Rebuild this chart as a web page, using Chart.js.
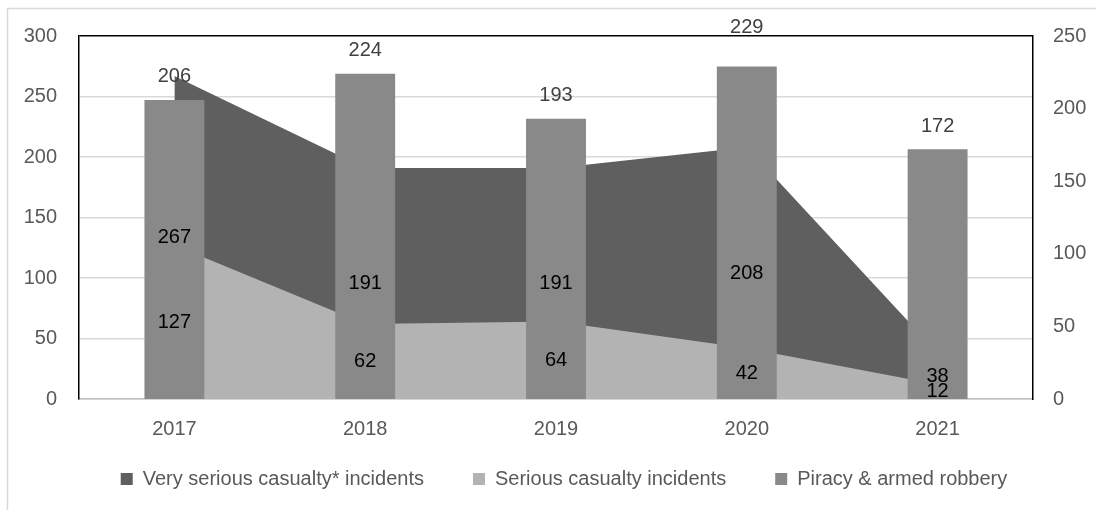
<!DOCTYPE html>
<html>
<head>
<meta charset="utf-8">
<script src="https://cdn.jsdelivr.net/npm/chart.js@4.4.1/dist/chart.umd.min.js"></script>
<style>
  html, body { margin: 0; padding: 0; background: #fff; overflow: hidden; }
  #wrap { position: relative; width: 1096px; height: 510px; }
</style>
</head>
<body>
<div id="wrap"><canvas id="chart"></canvas></div>
<script>
// datos
const years = ["2017", "2018", "2019", "2020", "2021"];
const verySerious = [267, 191, 191, 208, 38];
const serious = [127, 62, 64, 42, 12];
const piracy = [206, 224, 193, 229, 172];
const leftTicks = [0, 50, 100, 150, 200, 250, 300];
const rightTicks = [0, 50, 100, 150, 200, 250];
const seriesNames = ["Very serious casualty* incidents", "Serious casualty incidents", "Piracy & armed robbery"];

const FONT = "'Liberation Sans', Arial, sans-serif";
Chart.defaults.font.family = FONT;
Chart.defaults.font.size = 20;
Chart.defaults.color = "#595959";

// marco exterior gris + ajuste de la leyenda
const outerFrame = {
  id: "outerFrame",
  beforeDraw(chart) {
    const ctx = chart.ctx;
    ctx.save();
    ctx.strokeStyle = "#d9d9d9";
    ctx.lineWidth = 1.5;
    ctx.strokeRect(7.5, 8.5, 2000, 2000);
    ctx.restore();
  },
  afterLayout(chart) {
    const lg = chart.legend;
    if (lg) {
      lg.left += 16;
      lg.right += 16;
      lg.top -= 60;
    }
  }
};

// etiquetas de valores
const valueLabels = {
  id: "valueLabels",
  afterDatasetsDraw(chart) {
    const ctx = chart.ctx;
    const yLeft = chart.scales.y;
    const top = chart.chartArea.top;
    ctx.save();
    ctx.font = "20px " + FONT;
    ctx.textAlign = "center";
    ctx.textBaseline = "middle";
    chart.data.datasets.forEach((ds, i) => {
      const meta = chart.getDatasetMeta(i);
      meta.data.forEach((el, j) => {
        const v = ds.data[j];
        if (ds.type === "bar") {
          ctx.fillStyle = "#404040";
          let y = el.y - 23;
          // si choca con el borde superior, se sube por encima
          if (y - 10 < top) y = top - 9;
          ctx.fillText(String(v), el.x, y);
        } else {
          ctx.fillStyle = "#000000";
          ctx.fillText(String(v), el.x, yLeft.getPixelForValue(v / 2));
        }
      });
    });
    ctx.restore();
  }
};

new Chart(document.getElementById("chart"), {
  type: "bar",
  data: {
    labels: years,
    datasets: [
      {
        type: "line",
        label: seriesNames[0],
        data: verySerious,
        yAxisID: "y",
        fill: "origin",
        backgroundColor: "#5f5f5f",
        borderColor: "rgba(0,0,0,0)",
        borderWidth: 0,
        pointRadius: 0,
        tension: 0,
        order: 2
      },
      {
        type: "line",
        label: seriesNames[1],
        data: serious,
        yAxisID: "y",
        fill: "origin",
        backgroundColor: "#b3b3b3",
        borderColor: "rgba(0,0,0,0)",
        borderWidth: 0,
        pointRadius: 0,
        tension: 0,
        order: 1
      },
      {
        type: "bar",
        label: seriesNames[2],
        data: piracy,
        yAxisID: "y1",
        backgroundColor: "#898989",
        borderWidth: 0,
        barPercentage: 0.314,
        categoryPercentage: 1,
        order: 0
      }
    ]
  },
  options: {
    responsive: true,
    maintainAspectRatio: false,
    animation: false,
    layout: { padding: { top: 36, left: 0, right: 0, bottom: 0 } },
    plugins: {
      tooltip: { enabled: false },
      legend: {
        position: "bottom",
        maxHeight: 30,
        labels: {
          boxWidth: 12,
          boxHeight: 12,
          padding: 49,
          color: "#595959",
          font: { size: 20 },
          sort: (a, b) => a.datasetIndex - b.datasetIndex
        }
      }
    },
    scales: {
      x: {
        offset: true,
        grid: { display: false, drawTicks: false },
        border: { color: "#bfbfbf", width: 1.5 },
        ticks: { color: "#595959", padding: 18 },
        afterFit: (s) => { s.height = 81; }
      },
      y: {
        position: "left",
        min: leftTicks[0],
        max: leftTicks[leftTicks.length - 1],
        ticks: { stepSize: leftTicks[1] - leftTicks[0], color: "#595959", padding: 22 },
        grid: {
          drawTicks: false,
          lineWidth: 1.5,
          color: (c) => (c.tick && c.tick.value === leftTicks[leftTicks.length - 1] ? "#000000" : "#d9d9d9")
        },
        border: { color: "#000000", width: 1.5 },
        afterFit: (s) => { s.width = 79; }
      },
      y1: {
        position: "right",
        min: rightTicks[0],
        max: rightTicks[rightTicks.length - 1],
        ticks: { stepSize: rightTicks[1] - rightTicks[0], color: "#595959", padding: 20 },
        grid: { display: false, drawTicks: false },
        border: { color: "#000000", width: 1.5 },
        afterFit: (s) => { s.width = 63; }
      }
    }
  },
  plugins: [outerFrame, valueLabels]
});
</script>
</body>
</html>
